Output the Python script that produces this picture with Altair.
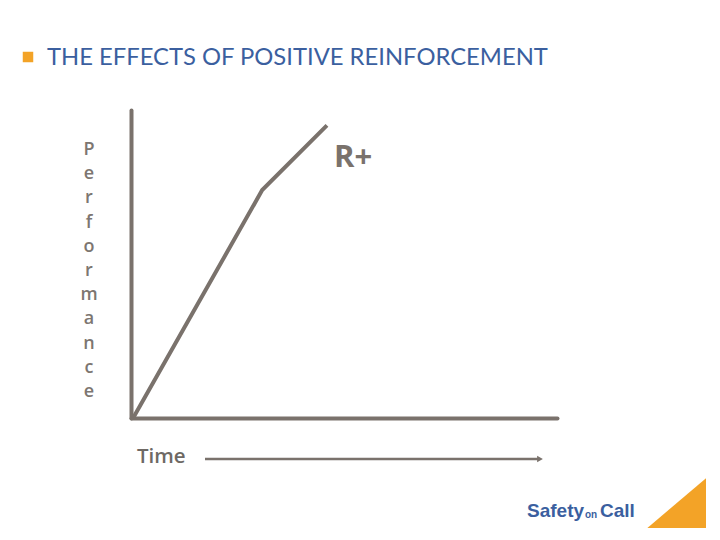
import altair as alt
import pandas as pd

# ---- data ----
time_vals = [0.05, 3.08, 4.6]
perf_vals = [0.0, 7.4, 9.5]
title_text = "THE EFFECTS OF POSITIVE REINFORCEMENT"
y_label_letters = list("Performance")
x_label = "Time"
curve_label = "R+"

GREY = "#7a726c"
BLUE = "#3b5f9f"
ORANGE = "#f3a327"

# plot-area origin in page pixels: (131, 110)
OX, OY = 131, 110

curve_df = pd.DataFrame({"time": time_vals, "perf": perf_vals})
one = alt.Data(values=[{"a": 1}])

xs = alt.Scale(domain=[0, 10], nice=False, zero=False)
ys = alt.Scale(domain=[0, 10], nice=False, zero=False)
axis_style = dict(domain=True, domainWidth=4, domainColor=GREY, ticks=False,
                  labels=False, grid=False, title=None, domainCap="round")

curve = alt.Chart(curve_df).mark_line(color=GREY, strokeWidth=4).encode(
    x=alt.X("time:Q", scale=xs, axis=alt.Axis(**axis_style)),
    y=alt.Y("perf:Q", scale=ys, axis=alt.Axis(**axis_style)),
)

def px(x):
    return alt.value(x - OX)

def py(y):
    return alt.value(y - OY)

title = alt.Chart(one).mark_text(text=title_text, font="Lato", fontSize=23.8,
                                 color=BLUE, align="left", baseline="alphabetic").encode(
    x=px(47), y=py(65))
bullet = alt.Chart(one).mark_point(shape="square", filled=True, size=110,
                                   color=ORANGE, opacity=1).encode(x=px(28), y=py(57))

perf_text = alt.Chart(one).mark_text(text="\n".join(y_label_letters), lineBreak="\n",
                                     lineHeight=24.2, font="Open Sans", fontSize=18,
                                     fontWeight=600,
                                     color="#7d7671", align="center",
                                     baseline="alphabetic").encode(x=px(89), y=py(155))

rplus = alt.Chart(one).mark_text(text=curve_label, font="Open Sans", fontWeight="bold",
                                 fontSize=31, color=GREY, align="left",
                                 baseline="alphabetic").encode(x=px(334), y=py(167))

time_text = alt.Chart(one).mark_text(text=x_label, font="Open Sans", fontSize=20.5,
                                     fontWeight=600,
                                     color="#6e6964", align="left",
                                     baseline="alphabetic").encode(x=px(137), y=py(463))
arrow_line = alt.Chart(one).mark_rule(color=GREY, strokeWidth=2.5).encode(
    x=px(205), x2=px(538), y=py(459))
arrow_head = alt.Chart(one).mark_point(shape="triangle-right", filled=True, size=45,
                                       color=GREY, opacity=1).encode(x=px(540), y=py(459))

logo1 = alt.Chart(one).mark_text(text="Safety", font="Liberation Sans", fontSize=19,
                                 fontWeight="bold",
                                 color=BLUE, align="left", baseline="alphabetic").encode(
    x=px(527), y=py(517))
logo2 = alt.Chart(one).mark_text(text="on", font="Liberation Sans", fontSize=10,
                                 fontWeight="bold",
                                 color=BLUE, align="left", baseline="alphabetic").encode(
    x=px(585), y=py(518))
logo3 = alt.Chart(one).mark_text(text="Call", font="Liberation Sans", fontSize=19,
                                 fontWeight="bold",
                                 color=BLUE, align="left", baseline="alphabetic").encode(
    x=px(600), y=py(517))
tri = alt.Chart(one).mark_point(shape="M1,-0.7L1,1L-1,1Z", filled=True, size=3721,
                                color=ORANGE, opacity=1, strokeWidth=0).encode(
    x=px(675.5), y=py(499.5))

chart = alt.layer(curve, title, bullet, perf_text, rplus, time_text, arrow_line,
                  arrow_head, logo1, logo2, logo3, tri).properties(
    width=426, height=308,
    autosize=alt.AutoSizeParams(type="none"),
    padding={"left": OX - 8, "top": OY - 8, "right": 150, "bottom": 110},
    background="white",
).configure_view(stroke=None)

chart.save("out.html", embed_options={"renderer": "svg", "actions": False})
